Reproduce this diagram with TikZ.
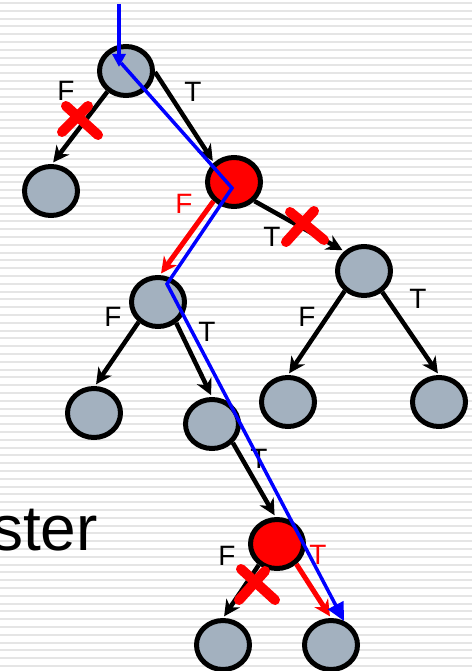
\documentclass[tikz,border=0pt]{standalone}
\usepackage{fontspec}
\setmainfont{Liberation Sans}
\usetikzlibrary{shapes.geometric,arrows.meta}
\definecolor{nodegray}{HTML}{A3B1BF}

\begin{document}
\begin{tikzpicture}[x=1pt,y=-1pt,
    vert/.style={ellipse,draw,line width=5pt,fill=nodegray,minimum width=53pt,minimum height=49pt,inner sep=0pt},
    hit/.style={vert,fill=red},
    edge/.style={line width=4.5pt,shorten >=2pt,-{Stealth[length=16pt,width=16pt,inset=5pt]}},
    hitedge/.style={edge,red,line width=5pt},
    lab/.style={font=\fontsize{28}{28}\selectfont,inner sep=0pt},
    cross/.style={red,line width=10pt,line cap=round},
    trace/.style={blue,line width=3.5pt}]
                \useasboundingbox (0,0) rectangle (472,671);
                \fill [white] (0,0) rectangle (472,671);
                \foreach \i in {0,...,85}
                    \fill [gray!20] (0,\i*7.8+2) rectangle (472,\i*7.8+4);
                \node [anchor=base east,inner sep=0pt,font=\fontsize{64}{64}\selectfont] (word) at (98,550) {ster};

                \node [vert] (A) at (126,71) {};
                \node [vert] (B) at (51,191) {};
                \node [hit]  (C) at (234,182) {};
                \node [vert] (D) at (364,271) {};
                \node [vert] (E) at (158,302) {};
                \node [vert] (G) at (94,413) {};
                \node [vert] (H) at (212,424) {};
                \node [vert] (I) at (288,402) {};
                \node [vert] (J) at (439,402) {};
                \node [hit]  (K) at (277,544) {};
                \node [vert] (L) at (223,645) {};
                \node [vert] (M) at (331,645) {};

                \draw [edge] (A.228) -- (B.88);
                \draw [edge] (A.-2) -- (C.136);
                \draw [hitedge] (C.223) -- (E.86);
                \draw [edge] (C.-43) -- (D.135);
                \draw [edge] (E.226) -- (G.88);
                \draw [edge] (E.-49) -- (H.north);
                \draw [edge] (H.-42) -- (K.93);
                \draw [edge] (D.226) -- (I.north);
                \draw [edge] (D.-49) -- (J.north);
                \draw [edge] (K.229) -- (L.north);
                \draw [hitedge] (K.-46) -- (M.north);

                \node [lab] (fA) at (66,91) {F};
                \node [lab] (tA) at (193,92) {T};
                \node [lab,red] (fC) at (184,204) {F};
                \node [lab] (tC) at (272,237) {T};
                \node [lab] (fE) at (113,317) {F};
                \node [lab] (tE) at (207,332) {T};
                \node [lab] (fD) at (307,317) {F};
                \node [lab] (tD) at (418,299) {T};
                \node [lab] (tH) at (259,459) {T};
                \node [lab] (fK) at (227,556) {F};
                \node [lab,red] (tK) at (318,555) {T};

                \draw [cross] (66,106) -- (98,135) (88,106) -- (62,132);
                \draw [cross] (290,212) -- (324,240) (314,211) -- (286,242);
                \draw [cross] (241,569) -- (275,600) (265,571) -- (239,600);

                \coordinate (p0) at (119,4);
                \coordinate (p1) at (119,67);
                \coordinate (p2) at (121,63);
                \coordinate (p3) at (232,188);
                \coordinate (p4) at (167,284);
                \coordinate (p5) at (344,621);
                \draw [trace,-{Triangle[length=13pt,width=13pt]}] (p0) -- (p1);
                \draw [trace,-{Triangle[length=18pt,width=17pt]}] (p2) -- (p3) -- (p4) -- (p5);
            \end{tikzpicture}
\end{document}
